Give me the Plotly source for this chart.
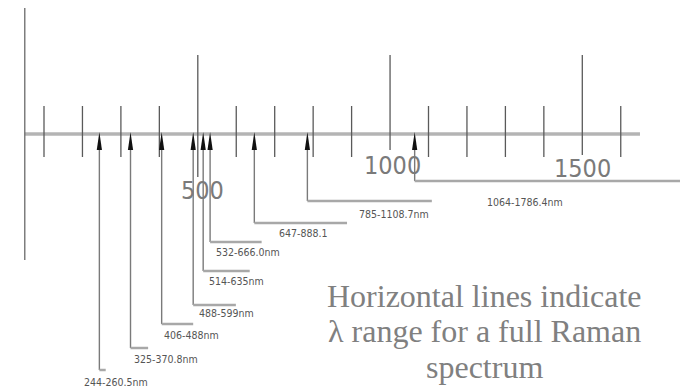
import plotly.graph_objects as go

# ---------------- data ----------------
laser_nm = [244, 325, 406, 488, 514, 532, 647, 785, 1064]
range_end_nm = [260.5, 370.8, 488, 599, 635, 666.0, 888.1, 1108.7, 1786.4]
range_labels = ["244-260.5nm", "325-370.8nm", "406-488nm", "488-599nm", "514-635nm",
                "532-666.0nm", "647-888.1", "785-1108.7nm", "1064-1786.4nm"]
major_ticks = [500, 1000, 1500]
major_tick_labels = ["500", "1000", "1500"]
minor_ticks = [100, 200, 300, 400, 600, 700, 800, 900, 1100, 1200, 1300, 1400, 1600]
axis_span = [50, 1650]
note_lines = ["Horizontal lines indicate", "\u03bb range for a full Raman", "spectrum"]

# ---------------- layout helpers (positions / styles) ----------------
W, H = 688, 391
PAGE_OFFSET = 8          # default body margin of the html page
PX_PER_NM = 0.3845
X0_PX = 5.55
x_range = [(PAGE_OFFSET - X0_PX) / PX_PER_NM, (W + PAGE_OFFSET - X0_PX) / PX_PER_NM]
y_range = [H + PAGE_OFFSET, PAGE_OFFSET]

AXIS_Y = 134
drop_y = [370, 348, 324, 305, 271, 242, 223, 201, 181]
label_y = [381.5, 359, 335, 313, 281, 251.5, 233, 214, 202]
label_dx = [-17, 1, 0, 4, 4, 4, 23, 50, 70]
major_bottom = [177, 150, 155]
major_label_y = [190, 165, 168.5]
major_label_dx = [5, 2, 0]
note_y = [296, 331, 367]
note_x_px = 484

fig = go.Figure()

def add_line(xs, ys, color, width):
    fig.add_trace(go.Scatter(x=xs, y=ys, mode="lines", line=dict(color=color, width=width),
                             hoverinfo="skip", showlegend=False))

# axis line
add_line(axis_span, [AXIS_Y, AXIS_Y], "#b4b4b4", 3.5)
# left vertical
add_line([axis_span[0], axis_span[0]], [4, 260], "#6a6a6a", 1.3)

# minor ticks
mx, my = [], []
for t in minor_ticks:
    mx += [t, t, None]
    my += [106, 157, None]
add_line(mx, my, "#5a5a5a", 1.3)

# major ticks
Mx, My = [], []
for t, b in zip(major_ticks, major_bottom):
    Mx += [t, t, None]
    My += [55, b, None]
add_line(Mx, My, "#5a5a5a", 1.3)

# vertical arrow shafts and horizontal range lines
vx, vy, hx, hy = [], [], [], []
for w, e, d in zip(laser_nm, range_end_nm, drop_y):
    vx += [w, w, None]
    vy += [148, d, None]
    hx += [w, e, None]
    hy += [d, d, None]
add_line(vx, vy, "#7a7a7a", 1.4)
add_line(hx, hy, "#a8a8a8", 2.5)

# arrowheads
half_w = 2.6 / PX_PER_NM
shapes = []
for w in laser_nm:
    shapes.append(dict(type="path", xref="x", yref="y",
                       path=f"M {w} 132 L {w - half_w} 150 L {w + half_w} 150 Z",
                       fillcolor="#111111", line=dict(width=0)))

annotations = []
# range labels
for w, lab, ly, dx in zip(laser_nm, range_labels, label_y, label_dx):
    annotations.append(dict(x=w, y=ly, xref="x", yref="y", text=lab, showarrow=False,
                            xanchor="left", yanchor="middle", xshift=dx,
                            font=dict(family="Liberation Sans Narrow, DejaVu Sans Condensed, sans-serif",
                                      size=10.5, color="#555555")))
# major tick labels
for t, lab, ly, dx in zip(major_ticks, major_tick_labels, major_label_y, major_label_dx):
    annotations.append(dict(x=t, y=ly, xref="x", yref="y", text=lab, showarrow=False,
                            xanchor="center", yanchor="middle", xshift=dx,
                            font=dict(family="Liberation Sans Narrow, DejaVu Sans Condensed, sans-serif",
                                      size=25, color="#7a7a7a")))
# note text
note_x = (note_x_px - X0_PX) / PX_PER_NM
for line, ny in zip(note_lines, note_y):
    annotations.append(dict(x=note_x, y=ny, xref="x", yref="y", text=line, showarrow=False,
                            xanchor="center", yanchor="middle",
                            font=dict(family="Liberation Serif, Times New Roman, serif",
                                      size=32, color="#808080")))

fig.update_layout(
    width=W, height=H,
    margin=dict(l=0, r=0, t=0, b=0),
    paper_bgcolor="white", plot_bgcolor="white",
    xaxis=dict(range=x_range, visible=False, fixedrange=True),
    yaxis=dict(range=y_range, visible=False, fixedrange=True),
    shapes=shapes, annotations=annotations,
    showlegend=False,
)

fig.write_html("out.html")
